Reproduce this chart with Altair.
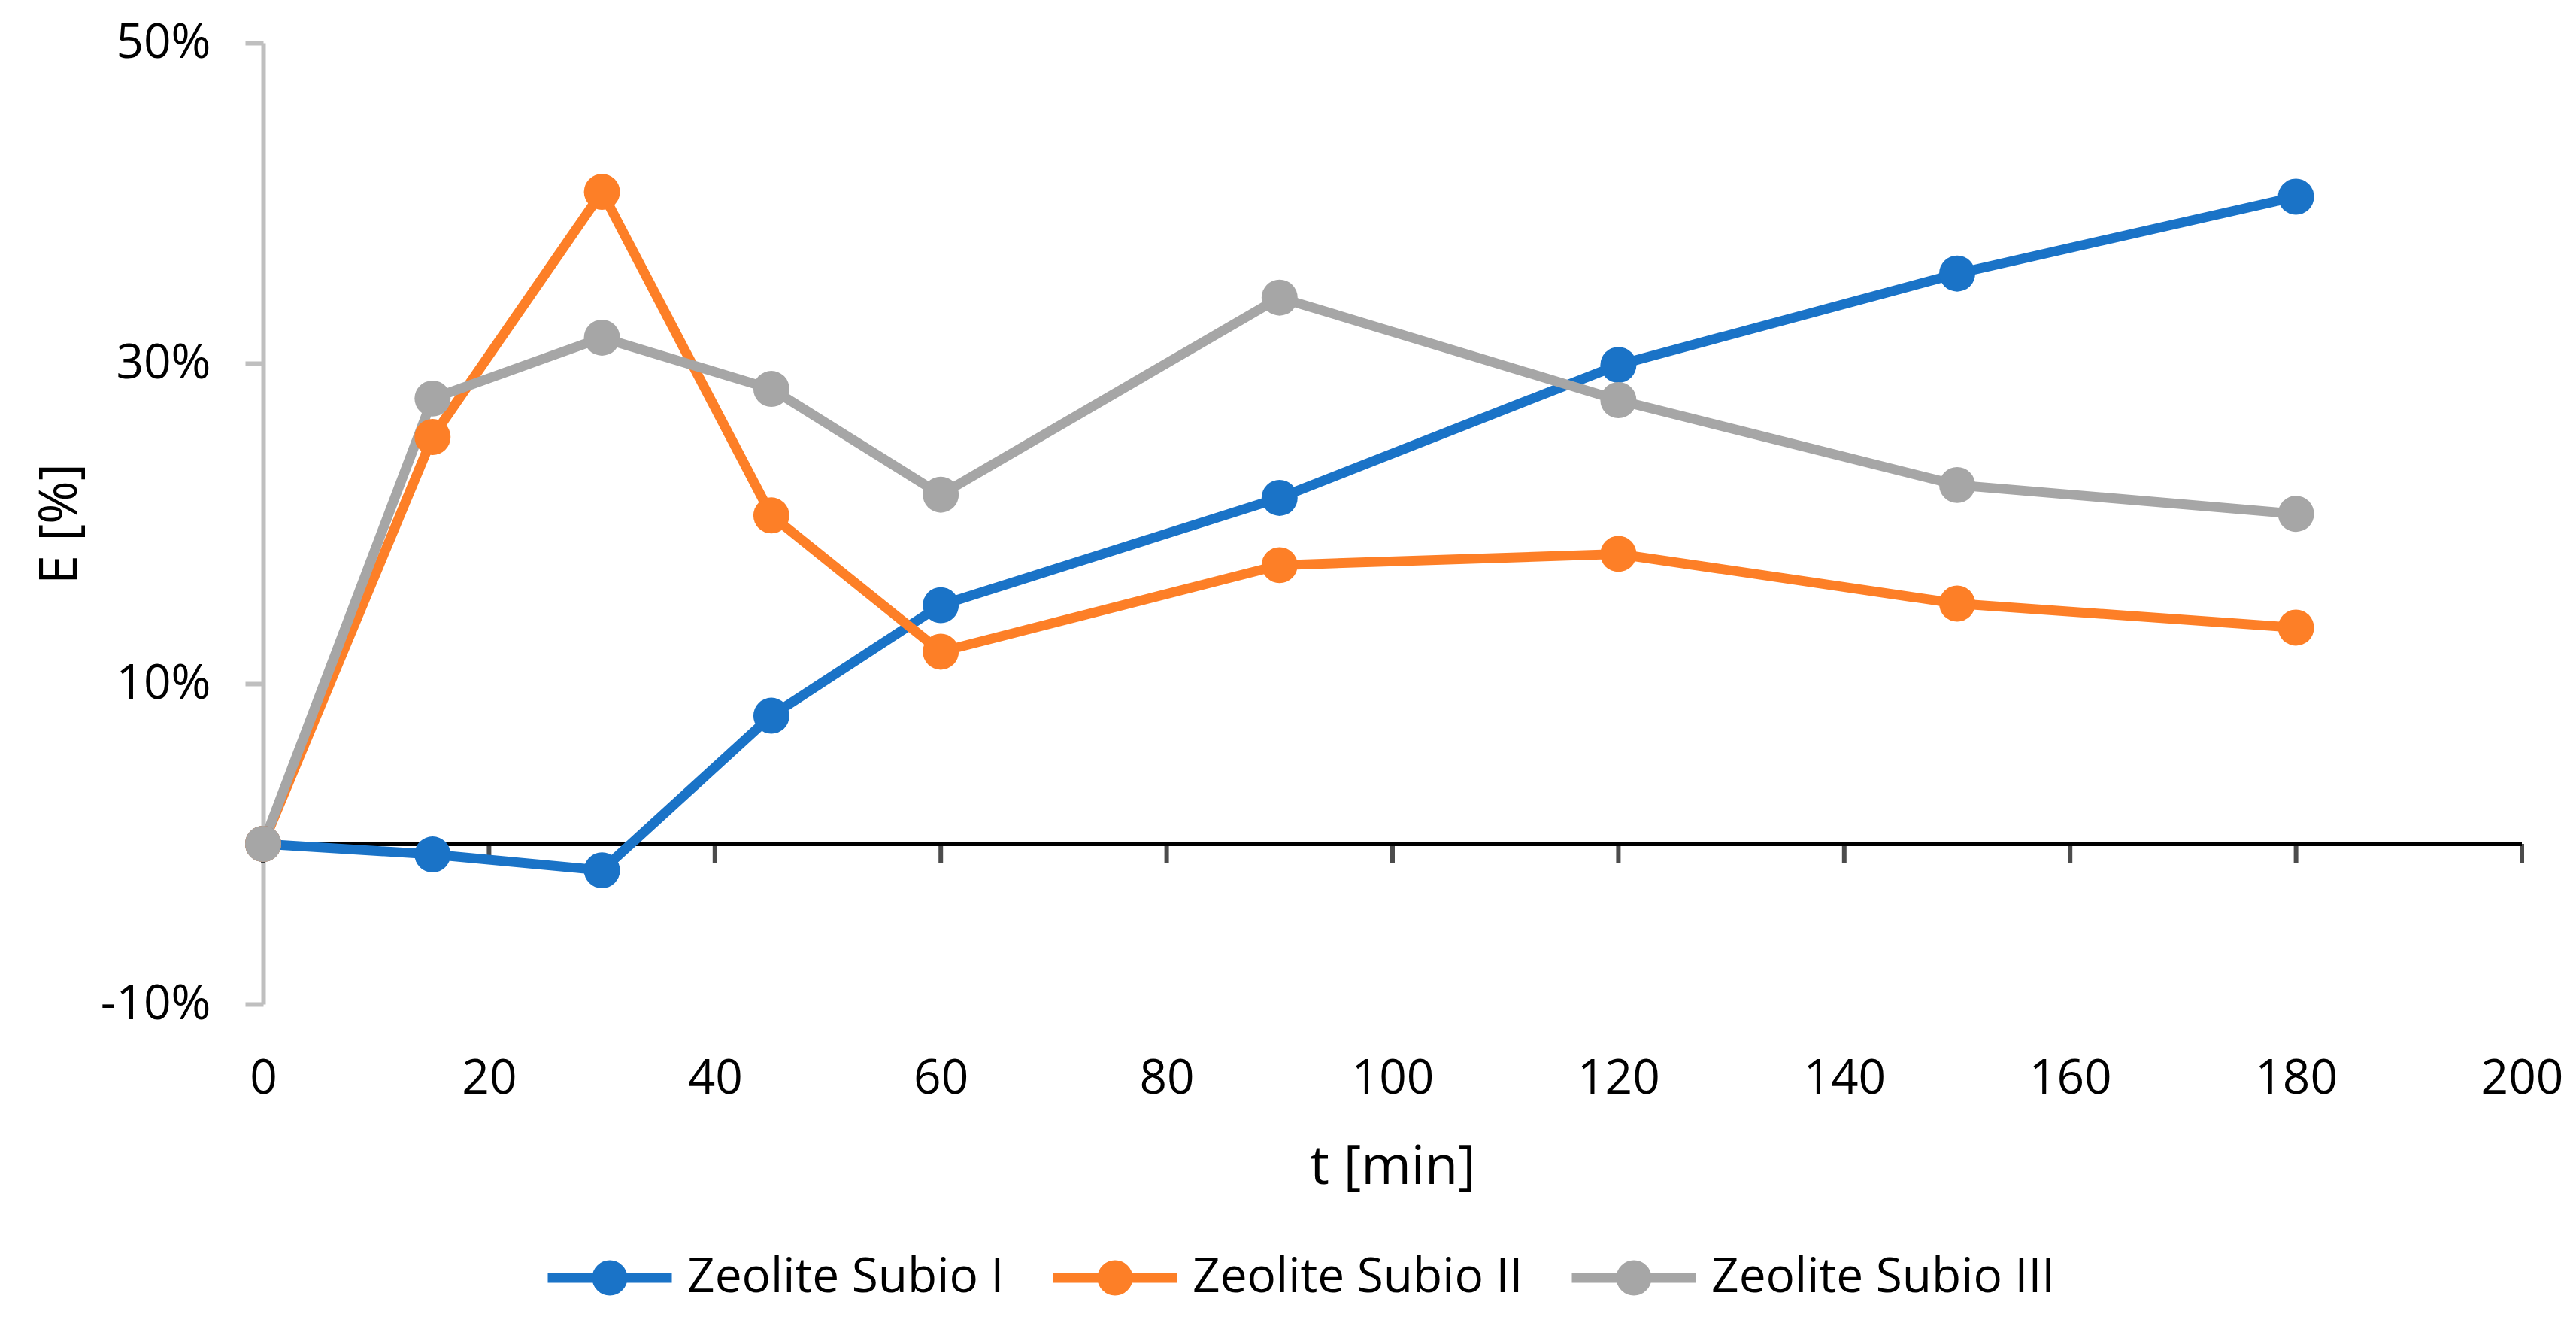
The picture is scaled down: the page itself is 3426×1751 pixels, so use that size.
import altair as alt
import pandas as pd

# ---- data ----
t_min = [0, 15, 30, 45, 60, 90, 120, 150, 180]
series_names = ["Zeolite Subio I", "Zeolite Subio II", "Zeolite Subio III"]
subio_1 = [0.000, -0.0066, -0.0165, 0.080, 0.149, 0.216, 0.299, 0.356, 0.404]
subio_2 = [0.000, 0.254, 0.407, 0.205, 0.120, 0.174, 0.181, 0.150, 0.135]
subio_3 = [0.000, 0.278, 0.316, 0.284, 0.218, 0.341, 0.277, 0.224, 0.206]
colors = ["#1A73C7", "#FD7F27", "#A6A6A6"]
x_ticks = [0, 20, 40, 60, 80, 100, 120, 140, 160, 180, 200]
y_ticks = [-0.1, 0.1, 0.3, 0.5]

rows = []
for name, vals in zip(series_names, [subio_1, subio_2, subio_3]):
    for t, v in zip(t_min, vals):
        rows.append({"t": t, "E": v, "series": name})
df = pd.DataFrame(rows)
ticks_df = pd.DataFrame({"t": x_ticks})

FONT = "Open Sans"

x_scale = alt.Scale(domain=[0, 200], nice=False, zero=False)
y_scale = alt.Scale(domain=[-0.1, 0.5], nice=False, zero=False)

x_enc = alt.X(
    "t:Q",
    scale=x_scale,
    title="t [min]",
    axis=alt.Axis(
        values=x_ticks,
        domain=False,
        ticks=False,
        grid=False,
        labelPadding=67,
        labelFontSize=64,
        labelFont=FONT,
        labelColor="#000000",
        labelFlush=False,
        titleFontSize=72,
        titleFont=FONT,
        titleFontWeight="normal",
        titleColor="#000000",
        titlePadding=50,
    ),
)
y_enc = alt.Y(
    "E:Q",
    scale=y_scale,
    title="E [%]",
    axis=alt.Axis(
        values=y_ticks,
        format=".0%",
        labelExpr="replace(datum.label, '\u2212', '-')",
        grid=False,
        domainColor="#BFBFBF",
        domainWidth=6,
        tickColor="#BFBFBF",
        tickWidth=6,
        tickSize=24,
        labelPadding=46,
        labelFontSize=64,
        labelFont=FONT,
        labelColor="#000000",
        titleFontSize=70,
        titleFont=FONT,
        titleFontWeight="normal",
        titleColor="#000000",
        titlePadding=34,
    ),
)

# legend glyph: a line with a solid disc (concentric stroked rings fill the disc)
legend_path = (
    "M-1,0H1 "
    "M0.206,0A0.206,0.206 0 1 1 -0.206,0A0.206,0.206 0 1 1 0.206,0Z "
    "M0.133,0A0.133,0.133 0 1 1 -0.133,0A0.133,0.133 0 1 1 0.133,0Z "
    "M0.061,0A0.061,0.061 0 1 1 -0.061,0A0.061,0.061 0 1 1 0.061,0Z"
)

zero_line = alt.Chart(df).mark_rule(color="#000000", strokeWidth=6).encode(
    y=alt.datum(0, scale=y_scale)
)

zero_ticks = alt.Chart(ticks_df).mark_tick(
    color="#000000", orient="vertical", size=25, thickness=6, yOffset=12.5
).encode(
    x=alt.X("t:Q", scale=x_scale),
    y=alt.datum(0),
)

lines = alt.Chart(df).mark_line(strokeWidth=13).encode(
    x=x_enc,
    y=y_enc,
    stroke=alt.Stroke(
        "series:N",
        scale=alt.Scale(domain=series_names, range=colors),
        legend=alt.Legend(
            title=None,
            orient="none",
            direction="horizontal",
            legendX=372,
            legendY=1553,
            symbolType=legend_path,
            symbolSize=27225,
            symbolStrokeWidth=13,
            labelFontSize=64,
            labelFont=FONT,
            labelColor="#000000",
            labelOffset=14,
            columnPadding=38,
            labelLimit=1000,
        ),
    ),
    detail="series:N",
)

points = alt.Chart(df).mark_point(filled=True, size=2300, opacity=1).encode(
    x=alt.X("t:Q", scale=x_scale),
    y=alt.Y("E:Q", scale=y_scale),
    color=alt.Color(
        "series:N",
        scale=alt.Scale(domain=series_names, range=colors),
        legend=None,
    ),
)

chart = (
    alt.layer(zero_line, zero_ticks, lines, points)
    .properties(
        width=3004,
        height=1278,
        autosize=alt.AutoSizeParams(type="none"),
        padding={"left": 342, "top": 49, "right": 60, "bottom": 408},
        background="white",
    )
    .configure_view(stroke=None)
)

chart.save("out.html", embed_options={"renderer": "svg", "actions": False})
